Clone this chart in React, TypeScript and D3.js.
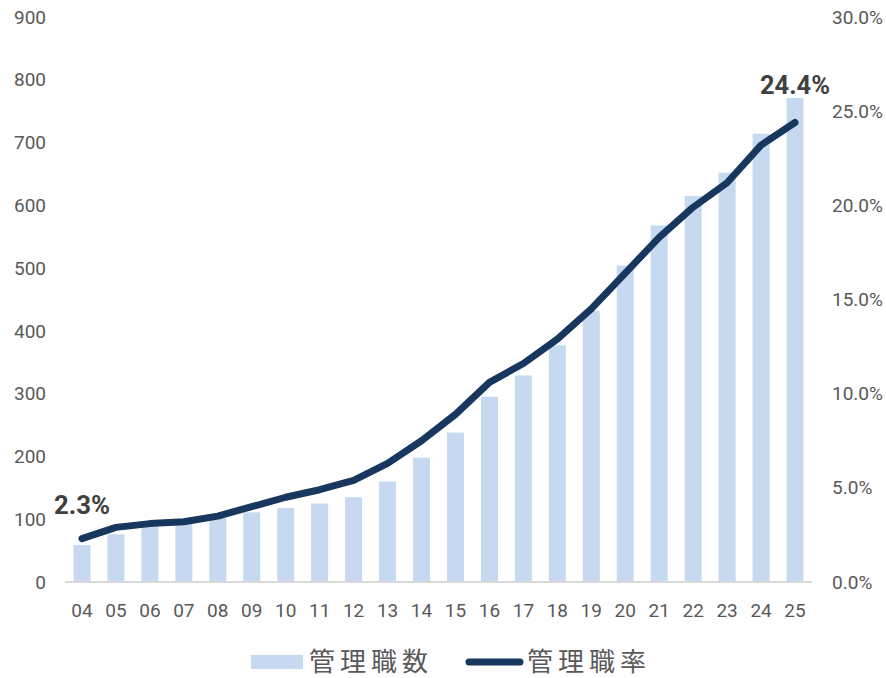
import React from "react";
import * as d3 from "d3";

const categories = ["04","05","06","07","08","09","10","11","12","13","14","15","16","17","18","19","20","21","22","23","24","25"];
const managers = [59,76,88,93,102,111,118,125,135,160,198,238,295,329,377,432,504,568,615,652,714,771];
const ratio = [2.3,2.9,3.1,3.2,3.5,4.0,4.5,4.9,5.4,6.3,7.5,8.9,10.6,11.6,12.9,14.5,16.4,18.3,19.9,21.2,23.2,24.4];
const leftTicks = [0,100,200,300,400,500,600,700,800,900];
const rightTicks = [0,5,10,15,20,25,30];
const barLabel = "管理職数";
const lineLabel = "管理職率";

const W = 886, H = 678;
const FONT = "Roboto, 'Noto Sans', sans-serif";
const CJK = "'Noto Sans CJK JP', sans-serif";

export default function App() {
  const x = d3.scaleBand<string>().domain(categories).range([65, 812]).paddingInner(0.5).paddingOuter(0.25);
  const yL = d3.scaleLinear().domain([0, 900]).range([582, 17]);
  const yR = d3.scaleLinear().domain([0, 30]).range([582, 17]);
  const cx = (c: string) => (x(c) ?? 0) + x.bandwidth() / 2;
  const line = d3.line<number>().x((_, i) => cx(categories[i])).y(d => yR(d)).curve(d3.curveLinear);
  const last = categories.length - 1;
  return (
    <svg width={W} height={H} style={{ position: "absolute", left: 0, top: 0, background: "#fff" }}>
      {managers.map((v, i) => (
        <rect key={i} x={x(categories[i])} y={yL(v)} width={x.bandwidth()} height={yL(0) - yL(v)} fill="#C6D9F0" />
      ))}
      <line x1={65} x2={812} y1={582} y2={582} stroke="#D9D9D9" strokeWidth={2} />
      <path d={line(ratio) ?? ""} fill="none" stroke="#17375E" strokeWidth={7} strokeLinecap="round" strokeLinejoin="round" />
      {leftTicks.map(t => (
        <text key={t} x={46} y={yL(t)} dy="0.35em" textAnchor="end" fontFamily={FONT} fontSize={19} fill="#595959">{t}</text>
      ))}
      {rightTicks.map(t => (
        <text key={t} x={832} y={yR(t)} dy="0.35em" textAnchor="start" fontFamily={FONT} fontSize={19} fill="#595959">{t.toFixed(1)}%</text>
      ))}
      {categories.map(c => (
        <text key={c} x={cx(c)} y={610} dy="0.35em" textAnchor="middle" fontFamily={FONT} fontSize={19} fill="#595959">{c}</text>
      ))}
      <text x={cx(categories[0])} y={yR(ratio[0]) - 34} dy="0.35em" textAnchor="middle" fontFamily={FONT} fontWeight="bold" fontSize={26} fill="#404040" textLength={56} lengthAdjust="spacingAndGlyphs">{ratio[0].toFixed(1)}%</text>
      <text x={cx(categories[last])} y={yR(ratio[last]) - 38} dy="0.35em" textAnchor="middle" fontFamily={FONT} fontWeight="bold" fontSize={26} fill="#404040" textLength={70} lengthAdjust="spacingAndGlyphs">{ratio[last].toFixed(1)}%</text>
      <rect x={251} y={655} width={52} height={14} fill="#C6D9F0" />
      <text x={309} y={659} dominantBaseline="central" fontFamily={CJK} fontSize={26} fill="#595959" letterSpacing={5}>{barLabel}</text>
      <line x1={469} x2={520} y1={662} y2={662} stroke="#17375E" strokeWidth={7} strokeLinecap="round" />
      <text x={527} y={659} dominantBaseline="central" fontFamily={CJK} fontSize={26} fill="#595959" letterSpacing={5}>{lineLabel}</text>
    </svg>
  );
}
